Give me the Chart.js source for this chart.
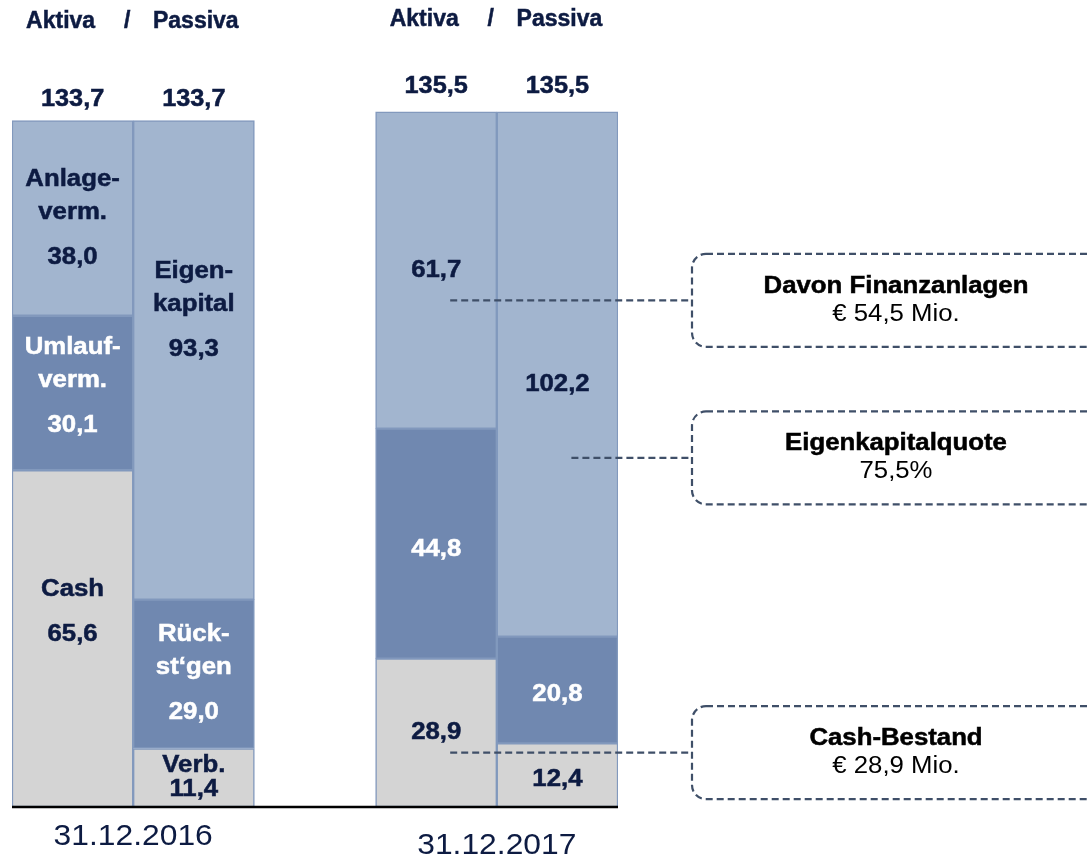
<!DOCTYPE html>
<html>
<head>
<meta charset="utf-8">
<script src="https://cdn.jsdelivr.net/npm/chart.js@4"></script>
<style>
  body { margin: 0; background: #fff; }
  #bilanz { display: block; }
</style>
</head>
<body>
<canvas id="bilanz" width="1089" height="863"></canvas>
<script>
// Bilanzdaten (Mio. €)
const categories = ['Aktiva 2016', 'Passiva 2016', '', 'Aktiva 2017', 'Passiva 2017'];
const bottomValues = [65.6, 11.4, null, 28.9, 12.4];
const middleValues = [30.1, 29.0, null, 44.8, 20.8];
const topValues = [38.0, 93.3, null, 61.7, 102.2];
const totals = [133.7, 133.7, null, 135.5, 135.5];

const bottomNames = [['Cash'], ['Verb.'], null, [], []];
const middleNames = [['Umlauf-', 'verm.'], ['Rück-', 'st‘gen'], null, [], []];
const topNames = [['Anlage-', 'verm.'], ['Eigen-', 'kapital'], null, [], []];

const dateLabels = ['31.12.2016', '31.12.2017'];
const headerLabels = ['Aktiva', '/', 'Passiva'];

const calloutTitles = ['Davon Finanzanlagen', 'Eigenkapitalquote', 'Cash-Bestand'];
const calloutValues = ['€ 54,5 Mio.', '75,5%', '€ 28,9 Mio.'];

const NAVY = '#0d1b42';
const FONT = '"Liberation Sans", Arial, sans-serif';

function fmt(v) {
    return v.toFixed(1).replace('.', ',');
}

// Text leicht in die Breite gezogen wie im Original
function drawText(ctx, text, x, y, font, color, sx, heavy) {
    ctx.save();
    ctx.translate(x, y);
    ctx.scale(sx || 1, 1);
    ctx.font = font;
    ctx.fillStyle = color;
    ctx.textAlign = 'center';
    ctx.textBaseline = 'middle';
    ctx.fillText(text, 0, 0);
    if (heavy) {
        ctx.strokeStyle = color;
        ctx.lineWidth = 0.5;
        ctx.strokeText(text, 0, 0);
    }
    ctx.restore();
}

const bilanzPlugin = {
    id: 'bilanz',
    afterDatasetsDraw(chart, args, opts) {
        const ctx = chart.ctx;
        const xs = chart.scales.x;
        const ys = chart.scales.y;
        const area = chart.chartArea;
        const boldFont = 'bold 23px ' + FONT;

        // Grundlinie
        ctx.save();
        ctx.strokeStyle = '#000';
        ctx.lineWidth = 2.5;
        ctx.beginPath();
        ctx.moveTo(area.left, ys.getPixelForValue(0));
        ctx.lineTo(area.right, ys.getPixelForValue(0));
        ctx.stroke();
        ctx.restore();

        // Segment-Beschriftungen
        const names = [bottomNames, middleNames, topNames];
        chart.data.datasets.forEach((ds, di) => {
            const meta = chart.getDatasetMeta(di);
            meta.data.forEach((bar, i) => {
                const v = ds.data[i];
                if (v == null) return;
                const lines = names[di][i] || [];
                const h = Math.abs(bar.base - bar.y);
                const compact = h < 80;
                const lineGap = compact ? 24 : 33;
                const valueGap = compact ? 24 : 45;
                const blockH = lines.length ? (lines.length - 1) * lineGap + valueGap : 0;
                const shift = (opts.shifts[di] && opts.shifts[di][i]) || 0;
                let y = (bar.y + bar.base) / 2 - blockH / 2 + shift;
                const color = di === 1 ? '#ffffff' : NAVY;
                lines.forEach((t, k) => {
                    drawText(ctx, t, bar.x, y + k * lineGap, boldFont, color, 1.12, true);
                });
                drawText(ctx, fmt(v), bar.x, y + blockH, boldFont, color, 1.12, true);
            });
        });

        // Summen über den Balken
        totals.forEach((t, i) => {
            if (t == null) return;
            const off = i < 2 ? 21 : 25;
            drawText(ctx, fmt(t), xs.getPixelForValue(i), ys.getPixelForValue(t) - off, boldFont, NAVY, 1.1, true);
        });

        // Überschriften und Stichtage
        [[0, 1, 22], [3, 4, 20]].forEach(([a, p, hy], k) => {
            const xa = xs.getPixelForValue(a);
            const xp = xs.getPixelForValue(p);
            const mid = (xa + xp) / 2;
            drawText(ctx, headerLabels[0], xa - 12, hy, boldFont, NAVY, 1, true);
            drawText(ctx, headerLabels[1], mid - 6, hy, boldFont, NAVY, 1, true);
            drawText(ctx, headerLabels[2], xp + 2, hy, boldFont, NAVY, 1, true);
            drawText(ctx, dateLabels[k], mid, k === 0 ? 837 : 846, '30px ' + FONT, NAVY, 1.06);
        });

        // Hinweis-Boxen mit gestrichelter Verbindung
        const boxLeft = area.right + 74;
        const boxRight = chart.width + 20;
        const boxH = 93;
        opts.callouts.forEach((c, k) => {
            const ax = xs.getPixelForValue(c.bar) + 14;
            const ay = ys.getPixelForValue(c.value);
            ctx.save();
            ctx.strokeStyle = '#3f4f68';
            ctx.lineWidth = 2.2;
            ctx.setLineDash([7, 4]);
            ctx.beginPath();
            ctx.moveTo(ax, ay);
            ctx.lineTo(boxLeft, ay);
            ctx.stroke();
            ctx.beginPath();
            ctx.roundRect(boxLeft, ay - boxH / 2, boxRight - boxLeft, boxH, 14);
            ctx.stroke();
            ctx.restore();
            const cx = boxLeft + 204;
            drawText(ctx, calloutTitles[k], cx, ay - 14, 'bold 23px ' + FONT, '#000', 1.12, true);
            drawText(ctx, calloutValues[k], cx, ay + 14, '23px ' + FONT, '#000', 1.12);
        });
    }
};

const barStyle = {
    borderColor: '#8299bd',
    borderWidth: 1.5,
    borderSkipped: false,
    categoryPercentage: 1,
    barPercentage: 1
};

new Chart(document.getElementById('bilanz').getContext('2d'), {
    type: 'bar',
    data: {
        labels: categories,
        datasets: [
            Object.assign({ label: 'Cash / Verbindlichkeiten', data: bottomValues, backgroundColor: '#d4d4d4' }, barStyle),
            Object.assign({ label: 'Umlaufvermögen / Rückstellungen', data: middleValues, backgroundColor: '#7088b0' }, barStyle),
            Object.assign({ label: 'Anlagevermögen / Eigenkapital', data: topValues, backgroundColor: '#a2b5cf' }, barStyle)
        ]
    },
    options: {
        responsive: false,
        animation: false,
        layout: { padding: { left: 12, right: 471, top: 37, bottom: 56 } },
        scales: {
            x: { stacked: true, display: false },
            y: { stacked: true, display: false, min: 0, max: 150 }
        },
        plugins: {
            legend: { display: false },
            tooltip: { enabled: false },
            bilanz: {
                shifts: [[-26, 0, 0, 0, 4], [-6, 0, 0, 6, 5], [0, -49, 0, 0, 10]],
                callouts: [
                    { bar: 3, value: 98.7 },
                    { bar: 4, value: 68 },
                    { bar: 3, value: 10.6 }
                ]
            }
        }
    },
    plugins: [bilanzPlugin]
});
</script>
</body>
</html>
